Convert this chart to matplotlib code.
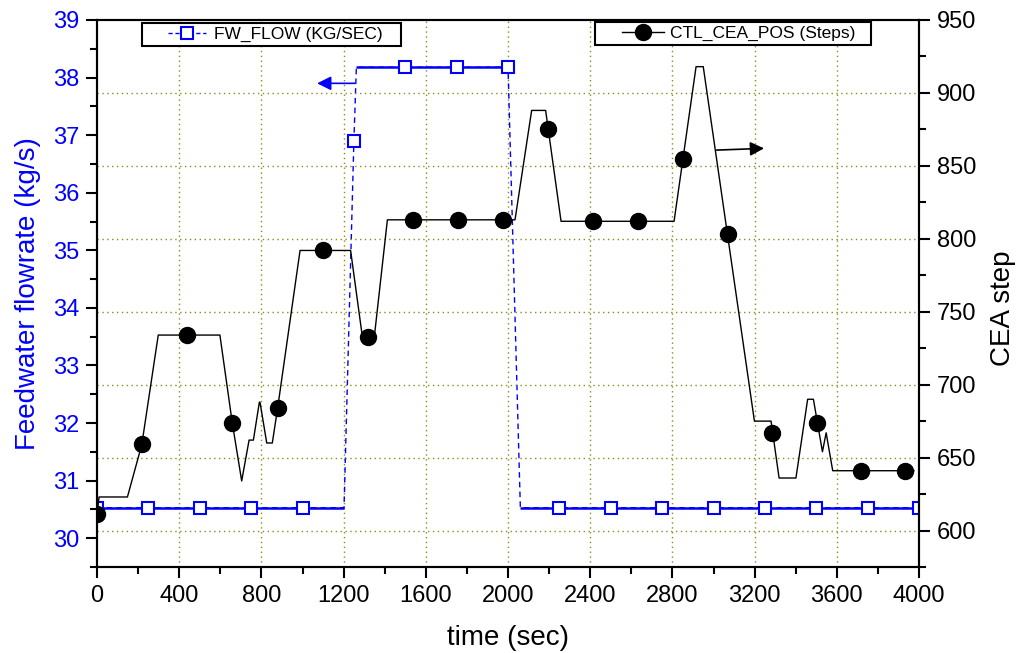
import numpy as np
import matplotlib.pyplot as plt
from matplotlib.ticker import MultipleLocator
from matplotlib.lines import Line2D
from matplotlib.patches import Rectangle

plt.rcParams['font.family'] = ['Liberation Sans', 'DejaVu Sans']

# Feedwater flow (kg/s) vs time (sec)
fw_time = [0, 250, 500, 750, 1000, 1202, 1250, 1262, 1500, 1750, 2000, 2060,
           2250, 2500, 2750, 3000, 3250, 3500, 3750, 4000]
fw_flow = [30.53, 30.53, 30.53, 30.53, 30.53, 30.53, 36.9, 38.18, 38.18, 38.18,
           38.18, 30.53, 30.53, 30.53, 30.53, 30.53, 30.53, 30.53, 30.53, 30.53]
fw_marked = [0, 1, 2, 3, 4, 6, 8, 9, 10, 12, 13, 14, 15, 16, 17, 18, 19]

# CEA position (steps) vs time (sec)
cea_time = [0, 10, 148, 218, 298, 598, 658, 704, 740, 761, 790, 793, 826, 853,
            879, 988, 1234, 1293, 1348, 1413, 2034, 2115, 2183, 2258, 2808,
            2915, 2950, 3199, 3280, 3319, 3401, 3458, 3486, 3530, 3548, 3580,
            3975]
cea_pos = [611, 623, 623, 659, 734, 734, 674, 634, 662, 662, 688, 688, 660, 660,
           684, 792, 792, 731, 731, 813, 813, 888, 888, 812, 812,
           918, 918, 675, 675, 636, 636, 690, 690, 654, 667, 641,
           641]
cea_mark_time = [0, 218, 439, 658, 879, 1098, 1320, 1539, 1758, 1977, 2196,
                 2415, 2633, 2850, 3069, 3286, 3502, 3718, 3932]
cea_mark_pos = [611, 659, 734, 674, 684, 792, 733, 813, 813, 813, 875,
                812, 812, 855, 803, 667, 674, 641, 641]

fig = plt.figure(figsize=(10.19, 6.53), dpi=100)
ax = fig.add_axes([0.0952, 0.1317, 0.8067, 0.8377])
ax2 = ax.twinx()

olive = '#8c8c1a'
blue = '#0000ff'

# feedwater: dashed through the steps, solid on the plateaus
t = np.array(fw_time)
f = np.array(fw_flow)
ax.plot(t, f, color=blue, lw=1.0, ls=(0, (4, 3)))
for i in range(len(t) - 1):
    if f[i] == f[i + 1]:
        ax.plot(t[i:i + 2], f[i:i + 2], color=blue, lw=1.8, solid_capstyle='butt')
ax.plot(t[fw_marked], f[fw_marked], ls='none', marker='s', ms=8, mfc='white',
        mec=blue, mew=1.5)

# CEA position
ax2.plot(cea_time, cea_pos, color='black', lw=1.0)
ax2.plot(cea_mark_time, cea_mark_pos, ls='none', marker='o', ms=11.5,
         color='black')

# axes ranges and ticks
ax.set_xlim(0, 4000)
ax.set_ylim(29.5, 39)
ax2.set_ylim(575, 950)
ax.xaxis.set_major_locator(MultipleLocator(400))
ax.xaxis.set_minor_locator(MultipleLocator(200))
ax.yaxis.set_major_locator(MultipleLocator(1))
ax.yaxis.set_minor_locator(MultipleLocator(0.5))
ax2.yaxis.set_major_locator(MultipleLocator(50))
ax2.yaxis.set_minor_locator(MultipleLocator(25))

for a in (ax, ax2):
    for s in a.spines.values():
        s.set_linewidth(1.5)
    a.tick_params(which='major', direction='out', length=8, width=1.5,
                  labelsize=17, pad=5)
    a.tick_params(which='minor', direction='out', length=5, width=1.5)
ax.tick_params(axis='y', labelcolor=blue)

# grid: vertical on time ticks, horizontal on CEA ticks
for x in np.arange(400, 4000, 400):
    ax.axvline(x, color=olive, lw=1.0, ls=(0, (1, 2.5)), zorder=0.5)
for y in np.arange(600, 950, 50):
    ax2.axhline(y, color=olive, lw=1.0, ls=(0, (1, 2.5)), zorder=0.5)

ax.set_xlabel('time (sec)', fontsize=20, labelpad=13)
ax.set_ylabel('Feedwater flowrate (kg/s)', fontsize=20, color=blue, labelpad=8)
ax2.set_ylabel('CEA step', fontsize=20, labelpad=10)
ax2.yaxis.label.set_y(0.473)

# axis pointer arrows
ax.annotate('', xy=(1071, 37.9), xytext=(1255, 37.9),
            arrowprops=dict(arrowstyle='-|>', color=blue, lw=1.2,
                            mutation_scale=21, shrinkA=0, shrinkB=0))
ax2.annotate('', xy=(3246, 862), xytext=(3015, 860.8),
             arrowprops=dict(arrowstyle='-|>', color='black', lw=1.2,
                             mutation_scale=21, shrinkA=0, shrinkB=0))

# legends in plain rectangular boxes
fw_handle = Line2D([], [], color=blue, lw=1.0, ls=(0, (3, 2)), marker='s',
                   ms=8, mfc='white', mec=blue, mew=1.5)
cea_handle = Line2D([], [], color='black', lw=1.0, marker='o', ms=11.5)

ax2.add_patch(Rectangle((0.0544, 0.953), 0.3156, 0.042, transform=ax2.transAxes,
                        fill=True, fc='white', ec='black', lw=1.5, zorder=5))
ax2.add_patch(Rectangle((0.606, 0.955), 0.335, 0.042, transform=ax2.transAxes,
                        fill=True, fc='white', ec='black', lw=1.5, zorder=5))
leg1 = ax2.legend([fw_handle], ['FW_FLOW (KG/SEC)'], loc='center left',
                  bbox_to_anchor=(0.0861, 0.974), frameon=False, fontsize=12.5,
                  borderpad=0, borderaxespad=0, handlelength=2.2,
                  handletextpad=0.45)
leg1.set_zorder(6)
ax2.add_artist(leg1)
leg2 = ax2.legend([cea_handle], ['CTL_CEA_POS (Steps)'], loc='center left',
                  bbox_to_anchor=(0.6387, 0.976), frameon=False, fontsize=12.5,
                  borderpad=0, borderaxespad=0, handlelength=2.4,
                  handletextpad=0.35)
leg2.set_zorder(6)

fig.savefig('out.png', dpi=100)
